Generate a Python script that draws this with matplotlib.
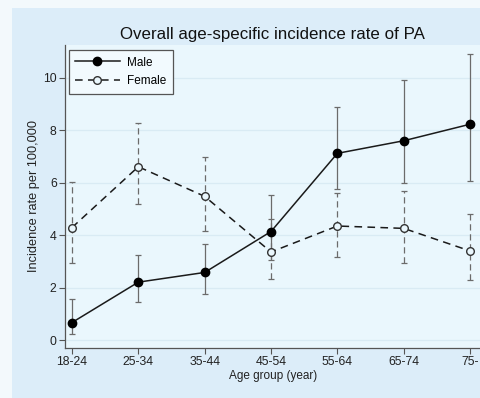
import matplotlib.pyplot as plt
from matplotlib.patches import Rectangle

plt.rcParams['font.family'] = ['Liberation Sans', 'DejaVu Sans']

age_groups = ['18-24', '25-34', '35-44', '45-54', '55-64', '65-74', '75-']

male = [0.67, 2.21, 2.58, 4.14, 7.12, 7.6, 8.23]
male_lo = [0.22, 1.44, 1.76, 3.05, 5.76, 6.0, 6.07]
male_hi = [1.55, 3.24, 3.66, 5.53, 8.9, 9.92, 10.9]

female = [4.29, 6.61, 5.48, 3.36, 4.35, 4.26, 3.4]
female_lo = [2.95, 5.19, 4.17, 2.34, 3.18, 2.95, 2.29]
female_hi = [6.04, 8.29, 6.97, 4.6, 5.6, 5.7, 4.81]

fig = plt.figure(figsize=(4.81, 3.98), dpi=100, facecolor='#f3f9fc')
# outer panel
fig.patches.append(Rectangle((12 / 481, 0), 1, 390 / 398, transform=fig.transFigure,
                             facecolor='#dcedf9', edgecolor='none', zorder=-1))

ax = fig.add_axes([65 / 481, 50 / 398, 416 / 481, 303 / 398])
ax.set_facecolor('#eaf7fd')
x = list(range(len(age_groups)))

err_m = [[m - lo for m, lo in zip(male, male_lo)], [hi - m for m, hi in zip(male, male_hi)]]
err_f = [[f - lo for f, lo in zip(female, female_lo)], [hi - f for f, hi in zip(female, female_hi)]]

ax.errorbar(x, male, yerr=err_m, fmt='none', ecolor='#6b6b6b', elinewidth=0.9,
            capsize=2.5, capthick=0.9, zorder=2)
eb2 = ax.errorbar(x, female, yerr=err_f, fmt='none', ecolor='#6b6b6b', elinewidth=0.9,
                  capsize=2.5, capthick=0.9, zorder=2)
eb2[2][0].set_linestyle((0, (5, 3)))

ax.plot(x, male, '-', color='#1a1a1a', lw=1.1, marker='o', markersize=6,
        markerfacecolor='black', markeredgecolor='black', label='Male', zorder=3)
ax.plot(x, female, color='#1a1a1a', lw=1.1, linestyle=(0, (5, 3.5)), marker='o',
        markersize=5.5, markerfacecolor='#eaf7fd', markeredgecolor='#333333',
        label='Female', zorder=3)

ax.set_xlim(-0.105, 6.165)
ax.set_ylim(-0.3, 11.25)
ax.set_xticks(x)
ax.set_xticklabels(age_groups)
ax.set_yticks([0, 2, 4, 6, 8, 10])
ax.yaxis.grid(True, color='#d9ebf4', lw=0.9)
ax.set_axisbelow(True)

for s in ['top', 'right']:
    ax.spines[s].set_visible(False)
for s in ['left', 'bottom']:
    ax.spines[s].set_color('#555555')
    ax.spines[s].set_linewidth(0.9)
ax.tick_params(direction='out', length=4, width=0.8, color='#555555',
               labelsize=8.8, labelcolor='#222222', pad=2)

ax.set_xlabel('Age group (year)', fontsize=8.5, color='#222222', labelpad=1)
ax.set_ylabel('Incidence rate per 100,000', fontsize=9.2, color='#222222', labelpad=2)
fig.text(272 / 481, 1 - 34 / 398, 'Overall age-specific incidence rate of PA',
         ha='center', va='center', fontsize=12.2, color='#111111')

leg = ax.legend(loc='upper left', bbox_to_anchor=(0.0, 0.995), fontsize=8.5,
                handlelength=3.8, frameon=True, fancybox=False, borderpad=0.55,
                labelspacing=0.55, handletextpad=0.6, borderaxespad=0.3)
leg.get_frame().set_edgecolor('#555555')
leg.get_frame().set_facecolor('#f2fafe')
leg.get_frame().set_linewidth(0.9)
leg.get_frame().set_alpha(1)

fig.savefig('out.png', dpi=100, facecolor=fig.get_facecolor())
